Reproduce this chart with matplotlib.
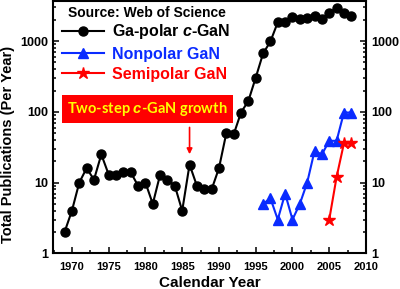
import matplotlib
matplotlib.use("Agg")
import matplotlib.pyplot as plt
from matplotlib.ticker import FixedLocator, FixedFormatter, MultipleLocator, NullFormatter

plt.rcParams['font.family'] = ['Liberation Sans', 'DejaVu Sans']
plt.rcParams['font.weight'] = 'bold'
plt.rcParams['mathtext.fontset'] = 'custom'
plt.rcParams['mathtext.it'] = 'Liberation Sans:italic:bold'
plt.rcParams['mathtext.rm'] = 'Liberation Sans:bold'

# data
years_c = list(range(1969, 2009))
pubs_c = [2, 4, 10, 16, 11, 25, 13, 13, 14, 14,
          9, 10, 5, 13, 11, 9, 4, 18, 9, 8,
          8, 16, 50, 48, 98, 143, 305, 670, 990, 1850,
          1850, 2180, 2070, 2130, 2300, 2070, 2510, 2950, 2510, 2300]

years_np = list(range(1996, 2009))
pubs_np = [5, 6, 3, 7, 3, 5, 10, 28, 25, 39, 39, 98, 98]

years_sp = [2005, 2006, 2007, 2008]
pubs_sp = [3, 12, 36, 36]

labels = ["Ga-polar $c$-GaN", "Nonpolar GaN", "Semipolar GaN"]
ytick_vals = [1, 10, 100, 1000]
ytick_txt = ["1", "10", "100", "1000"]

blue = '#0a2bff'
red = '#ff0000'

fig = plt.figure(figsize=(4, 2.89), dpi=100)
ax = fig.add_axes([0.132, 0.1235, 0.783, 0.873])

ax.plot(years_c, pubs_c, color='black', marker='o', ms=6.5, lw=1.5, label=labels[0])
ax.plot(years_np, pubs_np, color=blue, marker='^', ms=7, lw=1.5, label=labels[1])
ax.plot(years_sp, pubs_sp, color=red, marker='*', ms=9, lw=1.5, label=labels[2])

ax.set_yscale('log')
ax.set_ylim(1, 3700)
ax.set_xlim(1967.4, 2010)

ax.yaxis.set_major_locator(FixedLocator(ytick_vals))
ax.yaxis.set_major_formatter(FixedFormatter(ytick_txt))
ax.yaxis.set_minor_formatter(NullFormatter())
ax.xaxis.set_major_locator(MultipleLocator(5))
ax.xaxis.set_minor_locator(MultipleLocator(2.5))

ax.tick_params(axis='y', which='both', direction='in', left=True, right=True,
               labelleft=True, labelright=True, labelsize=9, width=1.1)
ax.tick_params(axis='x', which='both', direction='in', top=False, labelsize=8,
               width=1.1, pad=6)
ax.tick_params(which='major', length=4.5)
ax.tick_params(which='minor', length=2.2)
for s in ax.spines.values():
    s.set_linewidth(1.5)

ax.set_xlabel("Calendar Year", fontsize=11, fontweight='bold', labelpad=3)
ax.set_ylabel("Total Publications (Per Year)", fontsize=10.5, fontweight='bold')
ax.yaxis.set_label_coords(-0.12, 0.43)

ax.text(0.049, 0.952, "Source: Web of Science", transform=ax.transAxes,
        fontsize=10, fontweight='bold', va='center', ha='left')

leg = ax.legend(loc='upper left', bbox_to_anchor=(0.0297, 0.915), frameon=False,
                borderpad=0, borderaxespad=0, handlelength=2.6,
                handletextpad=0.5, labelspacing=0.32,
                labelcolor=['black', blue, red],
                prop={'weight': 'bold', 'size': 11.5})

ax.text(0.3026, 0.572, "Two-step $c$-GaN growth", transform=ax.transAxes,
        fontsize=10.5, fontweight='bold', color='#ffff00', family=['Lato', 'DejaVu Sans'],
        ha='center', va='center',
        bbox=dict(boxstyle='square,pad=0.35', fc=red, ec='none'))

ax.annotate('', xy=(1986, 23), xytext=(1986, 66),
            arrowprops=dict(arrowstyle='-|>', color=red, lw=1.2, mutation_scale=8))

fig.savefig('out.png', dpi=100)
